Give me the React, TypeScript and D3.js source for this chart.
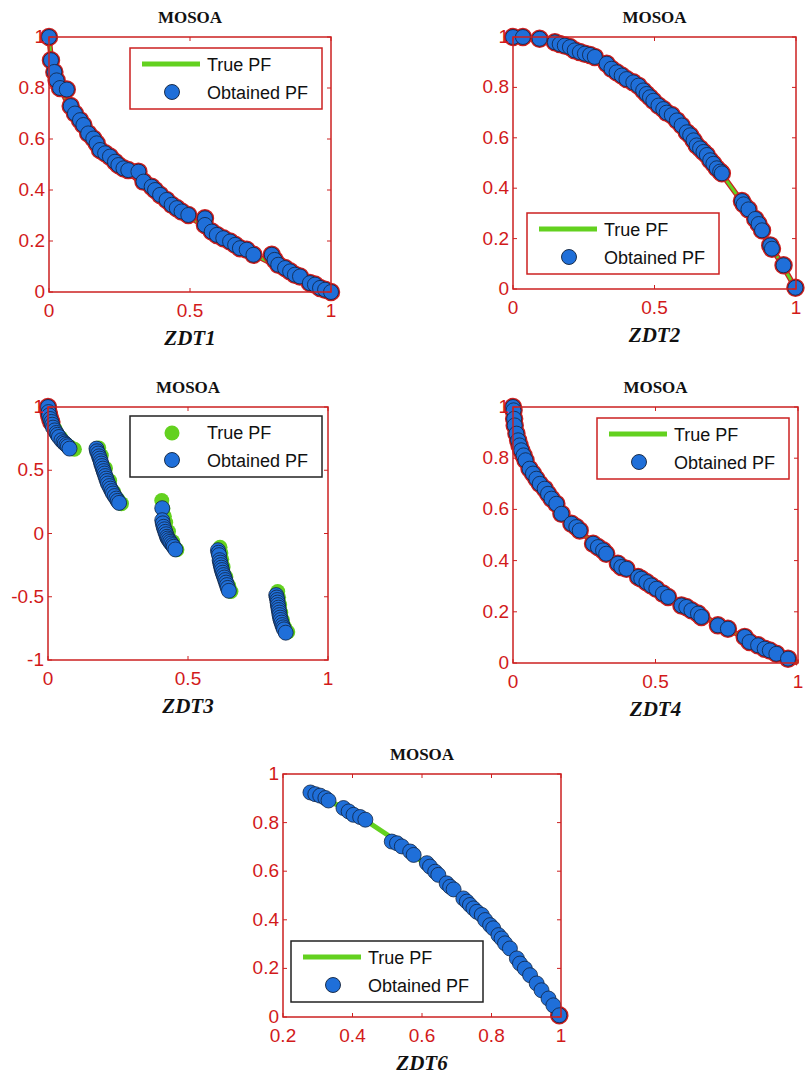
import React, { useEffect, useRef } from "react"
import * as d3 from "d3"

type Pt = [number, number]

// ---- data ----
const zdt1True: Pt[] = [
    [0, 1], [0.01, 0.9], [0.025, 0.842], [0.05, 0.776], [0.1, 0.684], [0.15, 0.613],
    [0.2, 0.553], [0.3, 0.452], [0.4, 0.368], [0.5, 0.293], [0.6, 0.225],
    [0.7, 0.163], [0.8, 0.106], [0.9, 0.051], [1, 0],
]
const zdt1Obtained: Pt[] = [
    [0, 1], [0.007, 0.909], [0.019, 0.863], [0.027, 0.83], [0.039, 0.8], [0.063, 0.794],
    [0.077, 0.729], [0.092, 0.7], [0.11, 0.674], [0.122, 0.655], [0.139, 0.622],
    [0.157, 0.602], [0.169, 0.583], [0.181, 0.557], [0.199, 0.544], [0.216, 0.531],
    [0.234, 0.511], [0.246, 0.498], [0.264, 0.485], [0.281, 0.478], [0.317, 0.472],
    [0.335, 0.433], [0.364, 0.413], [0.376, 0.4], [0.394, 0.381], [0.417, 0.361],
    [0.435, 0.342], [0.453, 0.329], [0.47, 0.316], [0.494, 0.302], [0.553, 0.289],
    [0.553, 0.263], [0.577, 0.237], [0.595, 0.224], [0.618, 0.211], [0.642, 0.198],
    [0.66, 0.185], [0.677, 0.172], [0.701, 0.166], [0.725, 0.146], [0.79, 0.146],
    [0.8, 0.126], [0.813, 0.107], [0.837, 0.094], [0.855, 0.081], [0.872, 0.068],
    [0.89, 0.061], [0.925, 0.035], [0.943, 0.029], [0.961, 0.016], [0.979, 0.009],
    [1, 0],
]

const zdt2True: Pt[] = [
    [0, 1], [0.1, 0.99], [0.2, 0.96], [0.3, 0.91], [0.4, 0.84], [0.5, 0.75],
    [0.6, 0.64], [0.7, 0.51], [0.8, 0.36], [0.9, 0.19], [0.95, 0.0975], [1, 0],
]
const zdt2Obtained: Pt[] = [
    [0, 1], [0.035, 1], [0.094, 0.993], [0.148, 0.979], [0.165, 0.972], [0.183, 0.966],
    [0.201, 0.96], [0.218, 0.947], [0.236, 0.94], [0.254, 0.934], [0.272, 0.929],
    [0.289, 0.921], [0.331, 0.894], [0.348, 0.874], [0.366, 0.86], [0.384, 0.847],
    [0.401, 0.833], [0.425, 0.82], [0.443, 0.807], [0.46, 0.788], [0.472, 0.774],
    [0.484, 0.761], [0.496, 0.747], [0.514, 0.728], [0.531, 0.714], [0.543, 0.7],
    [0.561, 0.69], [0.579, 0.669], [0.596, 0.649], [0.614, 0.622], [0.626, 0.61],
    [0.638, 0.59], [0.649, 0.57], [0.661, 0.558], [0.673, 0.544], [0.685, 0.532],
    [0.697, 0.511], [0.708, 0.497], [0.72, 0.479], [0.732, 0.466], [0.738, 0.459],
    [0.809, 0.349], [0.815, 0.336], [0.832, 0.316], [0.856, 0.278], [0.868, 0.258],
    [0.88, 0.233], [0.909, 0.173], [0.915, 0.16], [0.956, 0.094], [0.998, 0.005],
]

const zdt3True: Pt[] = [
    [0, 1], [0.008, 0.9], [0.02, 0.83], [0.04, 0.76], [0.06, 0.71], [0.075, 0.685], [0.089, 0.67],
    [0.176, 0.68], [0.185, 0.62], [0.2, 0.52], [0.215, 0.42], [0.23, 0.33], [0.245, 0.27], [0.257, 0.24],
    [0.401, 0.265], [0.405, 0.2], [0.41, 0.14], [0.415, 0.09], [0.425, 0.02], [0.44, -0.06], [0.455, -0.125],
    [0.609, -0.105], [0.612, -0.15], [0.615, -0.2], [0.62, -0.26], [0.63, -0.34], [0.64, -0.41], [0.648, -0.455],
    [0.815, -0.455], [0.818, -0.5], [0.822, -0.56], [0.826, -0.62], [0.832, -0.68], [0.84, -0.74], [0.851, -0.775],
]
const zdt3Obtained: Pt[] = [
    [0, 1], [0.002, 0.96], [0.004, 0.934], [0.008, 0.905], [0.012, 0.882], [0.015, 0.86],
    [0.018, 0.837], [0.024, 0.815], [0.03, 0.795], [0.034, 0.78], [0.039, 0.763],
    [0.048, 0.737], [0.055, 0.722], [0.06, 0.711], [0.066, 0.7], [0.071, 0.689], [0.077, 0.671],
    [0.173, 0.671], [0.175, 0.65], [0.179, 0.632], [0.182, 0.61], [0.185, 0.592],
    [0.188, 0.572], [0.19, 0.553], [0.193, 0.533], [0.196, 0.513], [0.199, 0.493],
    [0.202, 0.474], [0.205, 0.454], [0.208, 0.434], [0.211, 0.415], [0.214, 0.395],
    [0.219, 0.375], [0.223, 0.355], [0.228, 0.335], [0.232, 0.316], [0.238, 0.296],
    [0.244, 0.276], [0.249, 0.258], [0.254, 0.242],
    [0.408, 0.2], [0.408, 0.105], [0.41, 0.08], [0.413, 0.053], [0.416, 0.033],
    [0.419, 0.013], [0.422, -0.006], [0.425, -0.026], [0.428, -0.04], [0.432, -0.053],
    [0.436, -0.066], [0.44, -0.079], [0.445, -0.092], [0.449, -0.105], [0.455, -0.126],
    [0.607, -0.132], [0.609, -0.152], [0.611, -0.171], [0.613, -0.211], [0.615, -0.23],
    [0.617, -0.25], [0.619, -0.27], [0.621, -0.289], [0.624, -0.31], [0.627, -0.329],
    [0.63, -0.348], [0.633, -0.368], [0.636, -0.388], [0.639, -0.408], [0.642, -0.43], [0.646, -0.453],
    [0.815, -0.487], [0.817, -0.506], [0.819, -0.526], [0.82, -0.546], [0.821, -0.566],
    [0.823, -0.586], [0.824, -0.605], [0.826, -0.625], [0.827, -0.645], [0.829, -0.665],
    [0.831, -0.684], [0.834, -0.704], [0.837, -0.724], [0.84, -0.742], [0.843, -0.758],
    [0.849, -0.784],
]

const zdt4Obtained: Pt[] = [
    [0, 1], [0.002, 0.987], [0.004, 0.954], [0.006, 0.928], [0.012, 0.896], [0.018, 0.87],
    [0.023, 0.85], [0.029, 0.831], [0.037, 0.811], [0.044, 0.792], [0.058, 0.759],
    [0.07, 0.74], [0.082, 0.72], [0.094, 0.7], [0.111, 0.681], [0.123, 0.661],
    [0.135, 0.642], [0.152, 0.622], [0.17, 0.583], [0.205, 0.544], [0.222, 0.531],
    [0.234, 0.518], [0.281, 0.466], [0.298, 0.453], [0.316, 0.44], [0.327, 0.427],
    [0.368, 0.388], [0.38, 0.375], [0.398, 0.368], [0.439, 0.336], [0.45, 0.329],
    [0.468, 0.316], [0.485, 0.303], [0.503, 0.29], [0.526, 0.271], [0.544, 0.258],
    [0.591, 0.225], [0.608, 0.219], [0.626, 0.206], [0.649, 0.193], [0.661, 0.18],
    [0.719, 0.147], [0.754, 0.134], [0.813, 0.102], [0.83, 0.082], [0.86, 0.069],
    [0.883, 0.056], [0.901, 0.049], [0.924, 0.036], [0.965, 0.017],
]

const zdt6True: Pt[] = [
    [0.28, 0.922], [0.3, 0.91], [0.4, 0.84], [0.5, 0.75], [0.6, 0.64],
    [0.7, 0.51], [0.8, 0.36], [0.9, 0.19], [0.95, 0.0975], [1, 0],
]
const zdt6Obtained: Pt[] = [
    [0.279, 0.924], [0.293, 0.917], [0.307, 0.911], [0.322, 0.901], [0.331, 0.891],
    [0.374, 0.86], [0.389, 0.846], [0.403, 0.832], [0.422, 0.823], [0.437, 0.812],
    [0.513, 0.722], [0.528, 0.715], [0.542, 0.702], [0.566, 0.681], [0.576, 0.667],
    [0.614, 0.633], [0.623, 0.619], [0.638, 0.598], [0.647, 0.585], [0.671, 0.55],
    [0.681, 0.536], [0.691, 0.525], [0.719, 0.488], [0.729, 0.475], [0.738, 0.461],
    [0.748, 0.447], [0.758, 0.433], [0.772, 0.42], [0.782, 0.399], [0.796, 0.378],
    [0.805, 0.365], [0.82, 0.337], [0.829, 0.323], [0.839, 0.303], [0.853, 0.282],
    [0.873, 0.241], [0.882, 0.22], [0.896, 0.199], [0.911, 0.172], [0.93, 0.138],
    [0.944, 0.11], [0.964, 0.076], [0.978, 0.048], [0.995, 0.007],
]

const ticks01 = [0, 0.5, 1]
const ticksY01 = [0, 0.2, 0.4, 0.6, 0.8, 1]
const ticksY3 = [-1, -0.5, 0, 0.5, 1]
const ticksX6 = [0.2, 0.4, 0.6, 0.8, 1]

const RED = "#cc2020"
const TEXT_RED = "#d21a1a"
const GREEN = "#63d11f"
const BLUE = "#1f6fd9"

const panels = [
    {
        name: "ZDT1", box: [49, 37, 331, 292], xDom: [0, 1], yDom: [0, 1],
        xTicks: ticks01, yTicks: ticksY01, trueLine: zdt1True, trueDots: null,
        obtained: zdt1Obtained, redAll: true, redIdx: [], legend: [130, 48], legendColor: RED,
    },
    {
        name: "ZDT2", box: [513, 37, 796, 289], xDom: [0, 1], yDom: [0, 1],
        xTicks: ticks01, yTicks: ticksY01, trueLine: zdt2True, trueDots: null,
        obtained: zdt2Obtained, redAll: true, redIdx: [], legend: [527, 213], legendColor: RED,
    },
    {
        name: "ZDT3", box: [48, 407, 328, 660], xDom: [0, 1], yDom: [-1, 1],
        xTicks: ticks01, yTicks: ticksY3, trueLine: null, trueDots: zdt3True,
        obtained: zdt3Obtained, redAll: false, redIdx: [0, 1, 2, 3, 4], legend: [130, 416], legendColor: "#222",
    },
    {
        name: "ZDT4", box: [513, 407, 798, 663], xDom: [0, 1], yDom: [0, 1],
        xTicks: ticks01, yTicks: ticksY01, trueLine: zdt1True, trueDots: null,
        obtained: zdt4Obtained, redAll: true, redIdx: [], legend: [597, 418], legendColor: RED,
    },
    {
        name: "ZDT6", box: [283, 774, 561, 1017], xDom: [0.2, 1], yDom: [0, 1],
        xTicks: ticksX6, yTicks: ticksY01, trueLine: zdt6True, trueDots: null,
        obtained: zdt6Obtained, redAll: false, redIdx: [zdt6Obtained.length - 1], legend: [291, 941], legendColor: "#222",
    },
]

const fmt = (v: number) => (v === 0 ? "0" : String(v))

const App = () => {
    const ref = useRef<SVGSVGElement | null>(null)

    useEffect(() => {
        if (!ref.current) return
        const svg = d3.select(ref.current)
        svg.selectAll("*").remove()

        const sans = "Liberation Sans, Arial, sans-serif"
        const serif = "Liberation Serif, Times New Roman, serif"

        panels.forEach((p) => {
            const [x0, y0, x1, y1] = p.box
            const x = d3.scaleLinear().domain(p.xDom).range([x0, x1])
            const y = d3.scaleLinear().domain(p.yDom).range([y1, y0])
            const g = svg.append("g")
            const cx = (x0 + x1) / 2
            const r = 7.5

            // true front
            if (p.trueLine) {
                const line = d3.line<Pt>().x((d) => x(d[0])).y((d) => y(d[1])).curve(d3.curveMonotoneX)
                if (p.redAll) {
                    g.append("path").attr("d", line(p.trueLine)).attr("fill", "none")
                        .attr("stroke", RED).attr("stroke-width", 5.5)
                }
                g.append("path").attr("d", line(p.trueLine)).attr("fill", "none")
                    .attr("stroke", GREEN).attr("stroke-width", p.redAll ? 3 : 5)
            }
            if (p.trueDots) {
                g.append("g").selectAll("circle").data(p.trueDots).enter().append("circle")
                    .attr("cx", (d) => x(d[0]) + 1.5).attr("cy", (d) => y(d[1]) + 0.5)
                    .attr("r", r).attr("fill", GREEN)
            }

            // red outline under the obtained points
            const redPts = p.redAll ? p.obtained : p.redIdx.map((i) => p.obtained[i])
            g.append("g").selectAll("circle").data(redPts).enter().append("circle")
                .attr("cx", (d) => x(d[0])).attr("cy", (d) => y(d[1]))
                .attr("r", r).attr("fill", BLUE).attr("stroke", RED).attr("stroke-width", 3.5)

            g.append("g").selectAll("circle").data(p.obtained).enter().append("circle")
                .attr("cx", (d) => x(d[0])).attr("cy", (d) => y(d[1]))
                .attr("r", r).attr("fill", BLUE).attr("stroke", "#10203a").attr("stroke-width", 0.9)
                .attr("stroke-opacity", 0.85)

            // frame and inward ticks
            g.append("rect").attr("x", x0).attr("y", y0).attr("width", x1 - x0).attr("height", y1 - y0)
                .attr("fill", "none").attr("stroke", RED).attr("stroke-width", 1.5)
            p.xTicks.forEach((t) => {
                g.append("line").attr("x1", x(t)).attr("x2", x(t)).attr("y1", y0).attr("y2", y0 + 4)
                    .attr("stroke", RED).attr("stroke-width", 1)
                g.append("line").attr("x1", x(t)).attr("x2", x(t)).attr("y1", y1).attr("y2", y1 - 4)
                    .attr("stroke", RED).attr("stroke-width", 1)
                g.append("text").attr("x", x(t)).attr("y", y1 + 25).attr("text-anchor", "middle")
                    .attr("font-family", sans).attr("font-size", 19)
                    .attr("fill", TEXT_RED).text(fmt(t))
            })
            p.yTicks.forEach((t) => {
                g.append("line").attr("x1", x1).attr("x2", x1 - 4).attr("y1", y(t)).attr("y2", y(t))
                    .attr("stroke", RED).attr("stroke-width", 1)
                g.append("line").attr("x1", x0).attr("x2", x0 + 4).attr("y1", y(t)).attr("y2", y(t))
                    .attr("stroke", RED).attr("stroke-width", 1)
                g.append("text").attr("x", x0 - 4).attr("y", y(t) + 6).attr("text-anchor", "end")
                    .attr("font-family", sans).attr("font-size", 19)
                    .attr("fill", TEXT_RED).text(fmt(t))
            })

            // title and problem label
            g.append("text").attr("x", cx).attr("y", y0 - 14).attr("text-anchor", "middle")
                .attr("font-family", serif).attr("font-weight", "bold")
                .attr("font-size", 17).attr("fill", "#111").text("MOSOA")
            g.append("text").attr("x", cx).attr("y", y1 + 53).attr("text-anchor", "middle")
                .attr("font-family", serif).attr("font-weight", "bold")
                .attr("font-style", "italic").attr("font-size", 21).attr("fill", "#111").text(p.name)

            // legend
            const [lx, ly] = p.legend
            g.append("rect").attr("x", lx).attr("y", ly).attr("width", 192).attr("height", 61)
                .attr("fill", "#fff").attr("stroke", p.legendColor).attr("stroke-width", 1.5)
            if (p.trueDots) {
                g.append("circle").attr("cx", lx + 42).attr("cy", ly + 17).attr("r", r).attr("fill", GREEN)
            } else {
                g.append("line").attr("x1", lx + 12).attr("x2", lx + 70).attr("y1", ly + 16).attr("y2", ly + 16)
                    .attr("stroke", GREEN).attr("stroke-width", 5)
            }
            g.append("circle").attr("cx", lx + 42).attr("cy", ly + 44).attr("r", r).attr("fill", BLUE)
                .attr("stroke", "#10203a").attr("stroke-width", 0.9)
            g.append("text").attr("x", lx + 77).attr("y", ly + 23).attr("font-family", sans)
                .attr("font-size", 18).attr("fill", "#111").text("True PF")
            g.append("text").attr("x", lx + 77).attr("y", ly + 51).attr("font-family", sans)
                .attr("font-size", 18).attr("fill", "#111").text("Obtained PF")
        })
    }, [])

    return (
        <div style={{ position: "absolute", left: 0, top: 0, width: 805, height: 1080, background: "#fff" }}>
            <svg ref={ref} width={805} height={1080} style={{ display: "block" }} />
        </div>
    )
}

export default App
